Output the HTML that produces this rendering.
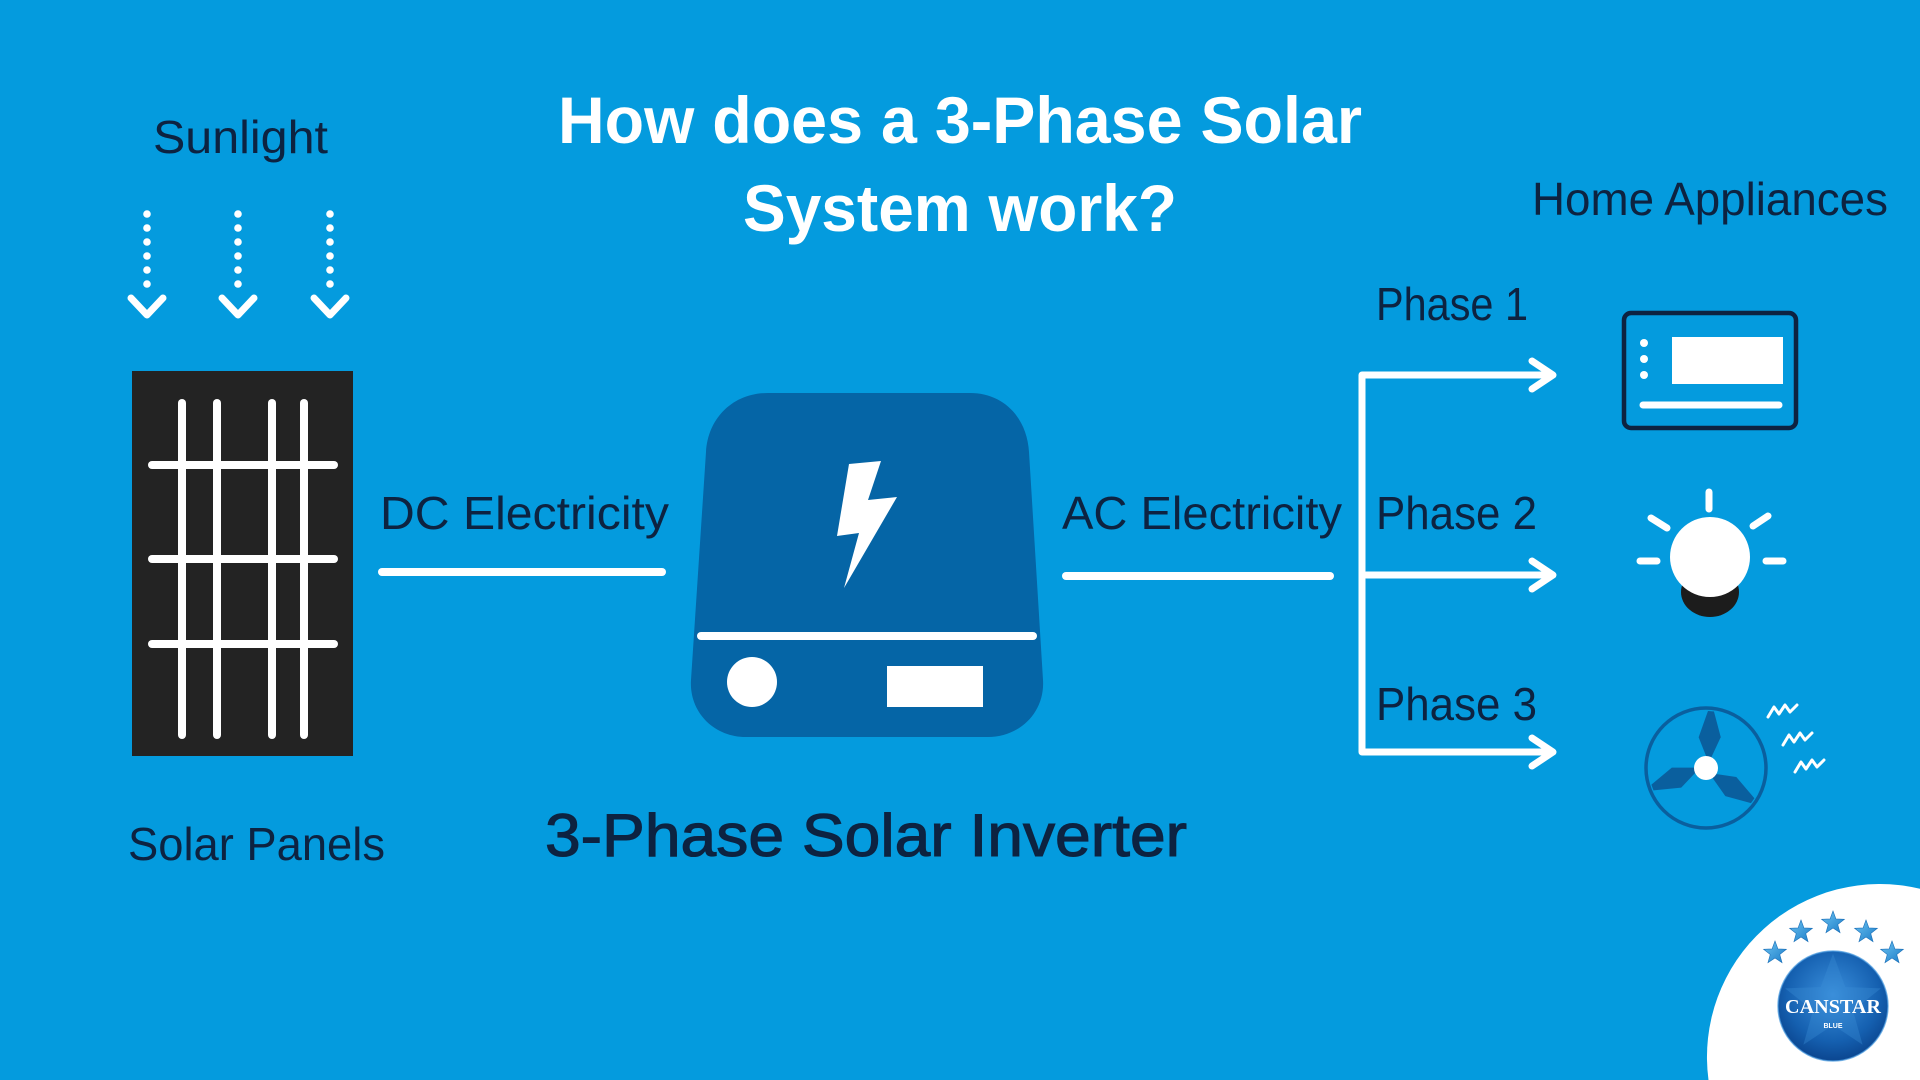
<!DOCTYPE html>
<html>
<head>
<meta charset="utf-8">
<style>
  html,body{margin:0;padding:0;background:#049bde;width:1920px;height:1080px;overflow:hidden;}
  svg{display:block;}
  .lbl{font-family:"Liberation Sans",sans-serif;fill:#0d2341;}
</style>
</head>
<body>
<svg width="1920" height="1080" viewBox="0 0 1920 1080" xmlns="http://www.w3.org/2000/svg" overflow="hidden">
  <defs>
    <path id="star" d="M0,-12 L2.94,-4.05 L11.41,-3.71 L4.76,1.55 L7.05,9.71 L0,5 L-7.05,9.71 L-4.76,1.55 L-11.41,-3.71 L-2.94,-4.05 Z"/>
    <radialGradient id="lg" cx="50%" cy="40%" r="60%">
      <stop offset="0" stop-color="#3a8fdc"/>
      <stop offset="0.7" stop-color="#1560b0"/>
      <stop offset="1" stop-color="#0b4690"/>
    </radialGradient>
    <linearGradient id="sg" x1="0" y1="0" x2="1" y2="1">
      <stop offset="0" stop-color="#6cc2f0"/>
      <stop offset="1" stop-color="#1a7cc8"/>
    </linearGradient>
    <path id="blade" d="M0,-10 L-10,-30 L-3,-57 L3,-57 L12,-32 L4,-10 Z"/>
  </defs>

  <rect x="0" y="0" width="1920" height="1080" fill="#049bde"/>

  <!-- Title -->
  <text x="558" y="143" textLength="804" lengthAdjust="spacingAndGlyphs" font-family="Liberation Sans, sans-serif" font-weight="bold" font-size="66" fill="#ffffff">How does a 3-Phase Solar</text>
  <text x="743" y="231" textLength="434" lengthAdjust="spacingAndGlyphs" font-family="Liberation Sans, sans-serif" font-weight="bold" font-size="66" fill="#ffffff">System work?</text>

  <!-- Sunlight -->
  <text class="lbl" x="153" y="153" textLength="175" lengthAdjust="spacingAndGlyphs" font-size="46">Sunlight</text>
  <g fill="#ffffff">
    <circle cx="147" cy="214" r="3.8"/><circle cx="147" cy="228" r="3.8"/><circle cx="147" cy="242" r="3.8"/><circle cx="147" cy="256" r="3.8"/><circle cx="147" cy="270" r="3.8"/><circle cx="147" cy="284" r="3.8"/>
    <circle cx="238" cy="214" r="3.8"/><circle cx="238" cy="228" r="3.8"/><circle cx="238" cy="242" r="3.8"/><circle cx="238" cy="256" r="3.8"/><circle cx="238" cy="270" r="3.8"/><circle cx="238" cy="284" r="3.8"/>
    <circle cx="330" cy="214" r="3.8"/><circle cx="330" cy="228" r="3.8"/><circle cx="330" cy="242" r="3.8"/><circle cx="330" cy="256" r="3.8"/><circle cx="330" cy="270" r="3.8"/><circle cx="330" cy="284" r="3.8"/>
  </g>
  <g fill="none" stroke="#ffffff" stroke-width="7" stroke-linecap="round" stroke-linejoin="round">
    <path d="M131 298 L147 315 L163 298"/>
    <path d="M222 298 L238 315 L254 298"/>
    <path d="M314 298 L330 315 L346 298"/>
  </g>

  <!-- Solar panel -->
  <rect x="132" y="371" width="221" height="385" fill="#232323"/>
  <g stroke="#ffffff" stroke-width="8" stroke-linecap="round">
    <line x1="182" y1="403" x2="182" y2="735"/>
    <line x1="217" y1="403" x2="217" y2="735"/>
    <line x1="272" y1="403" x2="272" y2="735"/>
    <line x1="304" y1="403" x2="304" y2="735"/>
    <line x1="152" y1="465" x2="334" y2="465"/>
    <line x1="152" y1="559" x2="334" y2="559"/>
    <line x1="152" y1="644" x2="334" y2="644"/>
  </g>
  <text class="lbl" x="128" y="860" textLength="257" lengthAdjust="spacingAndGlyphs" font-size="46">Solar Panels</text>

  <!-- DC -->
  <text class="lbl" x="380" y="529" textLength="289" lengthAdjust="spacingAndGlyphs" font-size="46">DC Electricity</text>
  <line x1="382" y1="572" x2="662" y2="572" stroke="#ffffff" stroke-width="8" stroke-linecap="round"/>

  <!-- Inverter -->
  <path d="M768 393 L970 393 C1004 393 1027 418 1029 452 L1043 680 C1045 712 1020 737 988 737 L746 737 C714 737 689 712 691 680 L706 452 C708 418 733 393 768 393 Z" fill="#0565a6"/>
  <polygon points="849,464 881,461 868,500 897,497 844,588 859,533 837,536" fill="#ffffff"/>
  <line x1="701" y1="636" x2="1033" y2="636" stroke="#ffffff" stroke-width="8" stroke-linecap="round"/>
  <circle cx="752" cy="682" r="25" fill="#ffffff"/>
  <rect x="887" y="666" width="96" height="41" fill="#ffffff"/>
  <text x="545" y="856" textLength="642" lengthAdjust="spacingAndGlyphs" font-family="Liberation Sans, sans-serif" font-size="60" fill="#0d2341" stroke="#0d2341" stroke-width="1.1">3-Phase Solar Inverter</text>

  <!-- AC -->
  <text class="lbl" x="1062" y="529" textLength="280" lengthAdjust="spacingAndGlyphs" font-size="46">AC Electricity</text>
  <line x1="1066" y1="576" x2="1330" y2="576" stroke="#ffffff" stroke-width="8" stroke-linecap="round"/>

  <!-- Bracket + arrows -->
  <g fill="none" stroke="#ffffff" stroke-width="7" stroke-linecap="round" stroke-linejoin="round">
    <path d="M1552 375 L1362 375 L1362 752 L1552 752"/>
    <line x1="1366" y1="575" x2="1552" y2="575"/>
    <path d="M1532 361 L1553 375 L1532 389"/>
    <path d="M1532 561 L1553 575 L1532 589"/>
    <path d="M1532 738 L1553 752 L1532 766"/>
  </g>
  <text class="lbl" x="1376" y="320" textLength="152" lengthAdjust="spacingAndGlyphs" font-size="46">Phase 1</text>
  <text class="lbl" x="1376" y="529" textLength="161" lengthAdjust="spacingAndGlyphs" font-size="46">Phase 2</text>
  <text class="lbl" x="1376" y="720" textLength="161" lengthAdjust="spacingAndGlyphs" font-size="46">Phase 3</text>

  <!-- Home Appliances -->
  <text class="lbl" x="1532" y="215" textLength="356" lengthAdjust="spacingAndGlyphs" font-size="46">Home Appliances</text>

  <!-- AC unit -->
  <rect x="1624" y="313" width="172" height="115" rx="7" ry="7" fill="none" stroke="#0d2341" stroke-width="4.5"/>
  <rect x="1672" y="337" width="111" height="47" fill="#ffffff"/>
  <circle cx="1644" cy="343" r="4" fill="#ffffff"/>
  <circle cx="1644" cy="359" r="4" fill="#ffffff"/>
  <circle cx="1644" cy="375" r="4" fill="#ffffff"/>
  <line x1="1643" y1="405" x2="1779" y2="405" stroke="#ffffff" stroke-width="7" stroke-linecap="round"/>

  <!-- Bulb -->
  <ellipse cx="1710" cy="592" rx="29" ry="25" fill="#1c1c1c"/>
  <circle cx="1710" cy="557" r="40" fill="#ffffff"/>
  <g stroke="#ffffff" stroke-width="7" stroke-linecap="round">
    <line x1="1709" y1="492" x2="1709" y2="509"/>
    <line x1="1651" y1="518" x2="1667" y2="528"/>
    <line x1="1753" y1="526" x2="1768" y2="516"/>
    <line x1="1640" y1="561" x2="1657" y2="561"/>
    <line x1="1766" y1="561" x2="1783" y2="561"/>
  </g>

  <!-- Fan -->
  <circle cx="1706" cy="768" r="60" fill="none" stroke="#0a5f9e" stroke-width="3.5"/>
  <g fill="#0a5f9e" transform="translate(1706 768)">
    <use href="#blade" transform="rotate(5)"/>
    <use href="#blade" transform="rotate(125)"/>
    <use href="#blade" transform="rotate(250)"/>
  </g>
  <circle cx="1706" cy="768" r="12" fill="#ffffff"/>
  <g fill="none" stroke="#ffffff" stroke-width="3" stroke-linecap="round" stroke-linejoin="round">
    <polyline points="1768,717 1774,707 1779,714 1785,705 1790,712 1797,705"/>
    <polyline points="1783,745 1789,735 1794,742 1800,733 1805,740 1812,733"/>
    <polyline points="1795,772 1801,762 1806,769 1812,760 1817,767 1824,760"/>
  </g>

  <!-- Canstar logo (white disc clipped to frame) -->
  <path d="M1708.5 1080 A173 173 0 0 1 1920 888.7 L1920 1080 Z" fill="#ffffff"/>
  <circle cx="1833" cy="1006" r="55" fill="url(#lg)"/>
  <circle cx="1833" cy="1006" r="55" fill="none" stroke="#4a9be0" stroke-width="1.5" opacity="0.7"/>
  <use href="#star" transform="translate(1833 1004) scale(4.2)" fill="#3d8fd8" opacity="0.35"/>
  <g fill="url(#sg)" stroke="#1a6fb8" stroke-width="0.6">
    <use href="#star" transform="translate(1775 953)"/>
    <use href="#star" transform="translate(1801 932)"/>
    <use href="#star" transform="translate(1833 923)"/>
    <use href="#star" transform="translate(1866 932)"/>
    <use href="#star" transform="translate(1892 953)"/>
  </g>
  <text x="1785" y="1013" textLength="96" lengthAdjust="spacingAndGlyphs" font-family="Liberation Serif, serif" font-weight="bold" font-size="20" fill="#ffffff">CANSTAR</text>
  <text x="1833" y="1028" text-anchor="middle" font-family="Liberation Sans, sans-serif" font-weight="bold" font-size="7" fill="#ffffff">BLUE</text>
</svg>
</body>
</html>
